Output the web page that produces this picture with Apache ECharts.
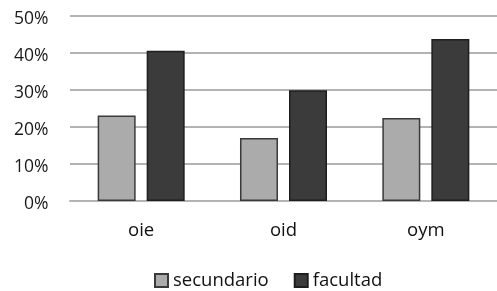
<!DOCTYPE html>
<html><head><meta charset="utf-8">
<script src="https://cdn.jsdelivr.net/npm/echarts@6/dist/echarts.min.js"></script>
<style>html,body{margin:0;padding:0;background:#fff}#c{width:497px;height:291px}</style>
</head><body><div id="c"></div>
<script>
const categories = ['oie', 'oid', 'oym'];
const secundario = [23.1, 17.0, 22.4];
const facultad = [40.6, 29.9, 43.8];
const yTicks = [0, 10, 20, 30, 40, 50];

const chart = echarts.init(document.getElementById('c'), null, {renderer: 'canvas'});
const font = 'Open Sans';
chart.setOption({
  animation: false,
  grid: {left: 70, top: 16, width: 430, height: 185, containLabel: false},
  xAxis: {
    type: 'category', data: categories,
    axisLine: {show: true, lineStyle: {color: '#b3b3b3', width: 2}},
    axisTick: {show: false},
    axisLabel: {color: '#111', fontSize: 18.5, fontFamily: font, margin: 20}
  },
  yAxis: {
    type: 'value', min: 0, max: 50, interval: 10,
    axisLine: {show: false}, axisTick: {show: false},
    splitLine: {lineStyle: {color: '#b3b3b3', width: 2}},
    axisLabel: {margin: 21.5, formatter: v => '{a|' + v + '%}',
      rich: {a: {color: '#1a1a1a', fontSize: 17.5, fontFamily: font, padding: [7, 0, 0, 0]}}}
  },
  legend: {
    top: 271, left: 154, padding: 0, itemWidth: 13, itemHeight: 13, itemGap: 25,
    icon: 'rect',
    textStyle: {color: '#111', fontSize: 18.5, fontFamily: font},
    data: ['secundario', 'facultad']
  },
  series: [
    {name: 'secundario', type: 'bar', data: secundario, barWidth: 38, barGap: '29%',
     itemStyle: {color: '#ababab', borderColor: '#3a3a3a', borderWidth: 1.5}},
    {name: 'facultad', type: 'bar', data: facultad, barWidth: 38,
     itemStyle: {color: '#3b3b3b', borderColor: '#1e1e1e', borderWidth: 1.5}}
  ]
});
</script></body></html>
